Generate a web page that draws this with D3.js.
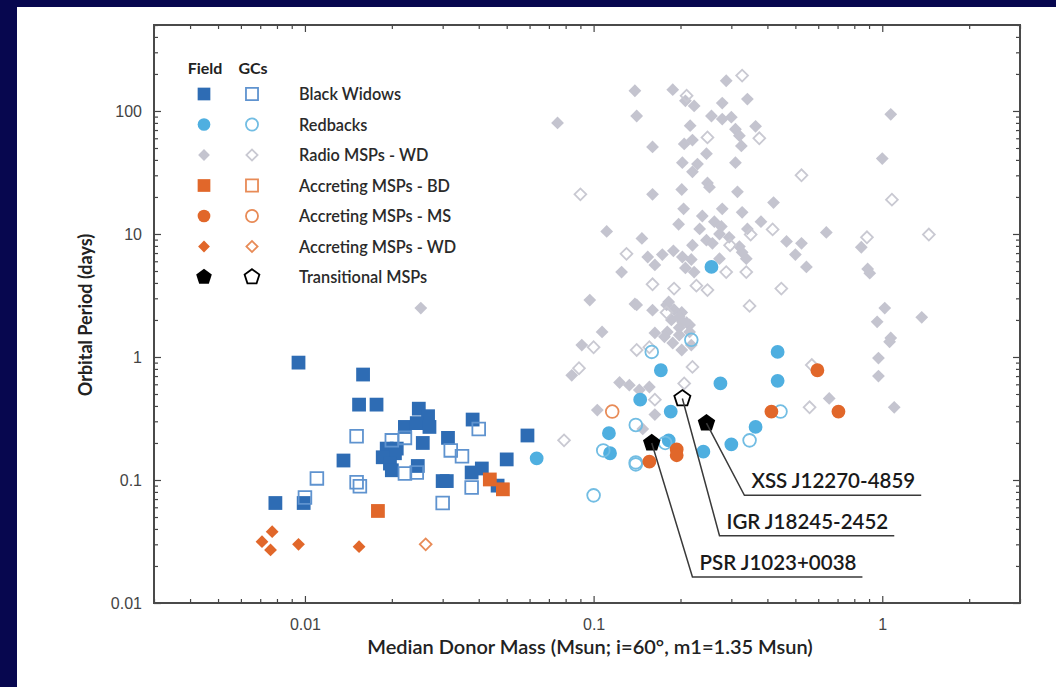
<!DOCTYPE html>
<html>
<head>
<meta charset="utf-8">
<script src="https://cdnjs.cloudflare.com/ajax/libs/d3/7.8.5/d3.min.js"></script>
<style>
  html, body { margin: 0; padding: 0; background: #07074f; }
  #chart { width: 1056px; height: 687px; }
  svg { font-family: Lato, "Open Sans", sans-serif; }
</style>
</head>
<body>
<div id="chart"></div>
<script>
'use strict';
(function() {
  // Data: [median donor mass (Msun), orbital period (days)]
  var blackWidowsField = [[0.0095,0.9],[0.0159,0.72],[0.0154,0.41],[0.0177,0.41],[0.0248,0.38],[0.0267,0.33],[0.0222,0.27],[0.0244,0.29],[0.027,0.27],[0.0313,0.22],[0.0381,0.31],[0.059,0.23],[0.0256,0.2],[0.0136,0.144],[0.0192,0.18],[0.0208,0.18],[0.0205,0.165],[0.0186,0.153],[0.0197,0.136],[0.02,0.12],[0.0246,0.13],[0.05,0.147],[0.03,0.098],[0.031,0.098],[0.0378,0.115],[0.041,0.124],[0.0465,0.09],[0.0079,0.065],[0.0099,0.065]];
  var blackWidowsGC = [[0.0151,0.227],[0.02,0.21],[0.0222,0.22],[0.032,0.174],[0.035,0.156],[0.04,0.26],[0.011,0.103],[0.0151,0.096],[0.0155,0.089],[0.01,0.072],[0.0222,0.113],[0.0244,0.115],[0.0378,0.087],[0.03,0.065]];
  var redbacksField = [[0.0635,0.15],[0.434,1.1],[0.434,0.64],[0.275,0.61],[0.171,0.78],[0.145,0.45],[0.185,0.36],[0.364,0.27],[0.113,0.24],[0.182,0.21],[0.3,0.195],[0.24,0.17],[0.114,0.165],[0.256,5.4]];
  var redbacksGC = [[0.159,1.1],[0.218,1.38],[0.14,0.28],[0.444,0.36],[0.347,0.21],[0.108,0.174],[0.14,0.139],[0.14,0.134],[0.177,0.2],[0.1,0.075]];
  var radioWDField = [[0.075,80],[0.139,146],[0.141,91],[0.188,149],[0.208,121],[0.223,110],[0.279,116],[0.288,176],[0.341,125],[0.256,91],[0.279,86],[0.3,89],[0.31,71],[0.32,63],[0.325,52],[0.364,75],[0.216,76],[0.206,54],[0.22,58],[0.246,45],[0.16,51],[0.203,38],[0.229,37],[0.22,32],[0.31,38],[0.248,26],[0.252,24],[0.16,21],[0.202,23],[0.315,22],[0.42,18],[0.205,16],[0.279,16],[0.327,15],[0.238,14],[0.197,12],[0.262,12.6],[0.277,11.5],[0.38,12.6],[0.233,11],[0.111,10.5],[0.341,11],[0.147,9.2],[0.273,10],[0.295,9.4],[0.246,8.9],[0.258,8.4],[0.22,8.1],[0.189,7.3],[0.173,6.8],[0.154,6.5],[0.163,5.6],[0.203,6.5],[0.218,6.2],[0.32,7.9],[0.327,7.1],[0.338,6.3],[0.466,8.7],[0.525,8.4],[0.5,6.8],[0.546,5.4],[0.64,10.3],[0.846,7.8],[0.89,5.2],[0.905,4.8],[1.07,94],[1.0,41],[0.125,4.9],[0.208,5.3],[0.223,4.9],[0.273,6.3],[0.097,2.9],[0.139,2.7],[0.16,2.4],[0.182,2.8],[0.202,2.3],[0.186,2.0],[0.203,1.93],[0.215,1.82],[0.198,1.73],[0.18,1.6],[0.163,1.57],[0.107,1.6],[1.02,2.5],[0.96,1.93],[1.37,2.1],[1.07,1.43],[0.091,1.25],[0.084,0.71],[0.141,2.65],[0.179,2.65],[0.19,2.42],[0.198,2.12],[0.21,1.9],[0.176,1.46],[0.198,1.51],[0.215,1.6],[0.188,1.3],[0.202,1.14],[0.218,1.25],[0.123,0.62],[0.133,0.59],[0.144,0.54],[0.156,0.57],[0.163,0.34],[0.103,0.37],[0.148,0.26],[1.06,1.33],[0.97,0.98],[0.97,0.7],[0.655,0.46],[1.1,0.39],[0.0252,2.5]];
  var radioWDGC = [[0.327,194],[0.21,133],[0.248,61],[0.375,60],[0.525,30],[0.09,21],[1.08,19],[0.417,10.9],[0.35,9.9],[0.297,8.1],[0.885,9.4],[1.45,9.9],[0.13,6.9],[0.288,4.9],[0.338,4.9],[0.16,3.9],[0.19,3.6],[0.227,3.8],[0.248,3.5],[0.447,3.6],[0.347,2.6],[0.179,2.3],[0.22,0.83],[0.206,0.61],[0.163,0.45],[0.1,1.2],[0.089,0.81],[0.079,0.21],[0.141,1.14],[0.156,1.2],[0.56,0.39],[0.57,0.86]];
  var accretingBDField = [[0.0437,0.101],[0.0485,0.084],[0.0179,0.056]];
  var accretingMSField = [[0.596,0.78],[0.413,0.36],[0.705,0.36],[0.194,0.177],[0.194,0.159],[0.156,0.141]];
  var accretingMSGC = [[0.116,0.36]];
  var accretingWDField = [[0.0077,0.038],[0.0071,0.0315],[0.0076,0.027],[0.0095,0.03],[0.0154,0.0287]];
  var accretingWDGC = [[0.0262,0.03]];
  var transitionalField = [[0.159,0.2],[0.246,0.29]];
  var transitionalGC = [[0.203,0.46]];

  // Axis domains / tick labels
  var xDomain = [0.003, 3];
  var yDomain = [0.01, 500];
  var xTickLabels = [0.01, 0.1, 1];
  var yTickLabels = [0.01, 0.1, 1, 10, 100];

  // Annotations: name, source point, elbow of the leader line
  var annotations = [
    {name: "XSS J12270-4859", point: [0.246, 0.29], label: [0.333, 0.075]},
    {name: "IGR J18245-2452", point: [0.203, 0.46], label: [0.273, 0.0352]},
    {name: "PSR J1023+0038", point: [0.159, 0.2], label: [0.22, 0.0163]}
  ];

  var legendRows = ["Black Widows", "Redbacks", "Radio MSPs - WD", "Accreting MSPs - BD", "Accreting MSPs - MS", "Accreting MSPs - WD", "Transitional MSPs"];

  var COLORS = {
    darkBlue: "#2e6cb4", darkBlueOpen: "#5f93cf",
    lightBlue: "#4fafe0", lightBlueOpen: "#72bde3",
    gray: "#c4c4cf", grayOpen: "#c9c9d2",
    orange: "#e1672a", orangeOpen: "#e88b57",
    black: "#000000"
  };

  var w = 1056;
  var h = 687;
  var left = 154, right = 1020, top = 25, bottom = 603;

  var svg = d3.select("#chart").append("svg")
    .attr("width", w)
    .attr("height", h);

  // white panel
  svg.append("rect")
    .attr("x", 17).attr("y", 7)
    .attr("width", w - 17).attr("height", h - 7)
    .attr("fill", "#ffffff");

  var xScale = d3.scaleLog().domain(xDomain).range([left, right]);
  var yScale = d3.scaleLog().domain(yDomain).range([bottom, top]);

  // log ticks, major = powers of ten
  var logTicks = function(domain) {
    var out = [];
    for (var e = -3; e <= 3; e++) {
      for (var k = 1; k <= 9; k++) {
        var v = +(k * Math.pow(10, e)).toPrecision(3);
        if (v >= domain[0] * 0.999 && v <= domain[1] * 1.001) out.push(v);
      }
    }
    return out;
  };
  var isMajor = function(v) {
    var l = Math.log10(v);
    return Math.abs(l - Math.round(l)) < 1e-6;
  };
  var xMinor = logTicks(xDomain).filter(function(v) { return !isMajor(v); });
  var yMinor = logTicks(yDomain).filter(function(v) { return !isMajor(v); });
  var fmt = function(d) { return d >= 1 ? d3.format("d")(d) : String(d); };

  var axes = svg.append("g").attr("class", "axes");

  var addAxis = function(axisFn, scale, values, size, labels, transform) {
    var ax = axisFn(scale).tickValues(values).tickSizeInner(size).tickSizeOuter(0)
      .tickFormat(labels ? fmt : "");
    var g = axes.append("g").attr("transform", transform).call(ax);
    g.select(".domain").remove();
    g.selectAll(".tick line").attr("stroke", "#444").attr("stroke-width", 1.2);
    g.selectAll(".tick text").attr("fill", "#444").attr("font-size", "16px");
    return g;
  };

  // bottom / left with labels, top / right mirrored
  var gx = addAxis(d3.axisBottom, xScale, xTickLabels, -7, true, "translate(0," + bottom + ")");
  gx.selectAll(".tick text").attr("dy", "0").attr("y", 27);
  addAxis(d3.axisBottom, xScale, xMinor, -4, false, "translate(0," + bottom + ")");
  addAxis(d3.axisTop, xScale, xTickLabels, -7, false, "translate(0," + top + ")");
  addAxis(d3.axisTop, xScale, xMinor, -4, false, "translate(0," + top + ")");

  var gy = addAxis(d3.axisLeft, yScale, yTickLabels, -7, true, "translate(" + left + ",0)");
  gy.selectAll(".tick text").attr("x", -12);
  addAxis(d3.axisLeft, yScale, yMinor, -4, false, "translate(" + left + ",0)");
  addAxis(d3.axisRight, yScale, yTickLabels, -7, false, "translate(" + right + ",0)");
  addAxis(d3.axisRight, yScale, yMinor, -4, false, "translate(" + right + ",0)");

  // frame
  axes.append("rect")
    .attr("x", left).attr("y", top)
    .attr("width", right - left).attr("height", bottom - top)
    .attr("fill", "none")
    .attr("stroke", "#4a4a4a")
    .attr("stroke-width", 2);

  // axis titles
  svg.append("text")
    .attr("x", 590).attr("y", 654)
    .attr("text-anchor", "middle")
    .attr("font-size", "20px")
    .attr("font-weight", 600)
    .attr("fill", "#222")
    .text("Median Donor Mass (Msun; i=60°, m1=1.35 Msun)");

  svg.append("text")
    .attr("transform", "translate(92,315) rotate(-90)")
    .attr("text-anchor", "middle")
    .attr("font-size", "18px")
    .attr("font-weight", 700)
    .attr("fill", "#222")
    .text("Orbital Period (days)");

  // symbols
  var pentagon = {
    draw: function(context, size) {
      var r = Math.sqrt(size / 2.378);
      for (var i = 0; i < 5; i++) {
        var a = -Math.PI / 2 + i * 2 * Math.PI / 5;
        var px = r * Math.cos(a), py = r * Math.sin(a);
        if (i === 0) context.moveTo(px, py); else context.lineTo(px, py);
      }
      context.closePath();
    }
  };

  var STYLES = {
    bw:  {type: d3.symbolSquare, size: 190, fill: COLORS.darkBlue, open: COLORS.darkBlueOpen},
    rb:  {type: d3.symbolCircle, size: 150, fill: COLORS.lightBlue, open: COLORS.lightBlueOpen},
    wd:  {type: d3.symbolSquare, size: 82, fill: COLORS.gray, open: COLORS.grayOpen, rotate: 45},
    abd: {type: d3.symbolSquare, size: 190, fill: COLORS.orange, open: COLORS.orangeOpen},
    ams: {type: d3.symbolCircle, size: 150, fill: COLORS.orange, open: COLORS.orangeOpen},
    awd: {type: d3.symbolSquare, size: 82, fill: COLORS.orange, open: COLORS.orangeOpen, rotate: 45},
    tr:  {type: pentagon, size: 200, fill: COLORS.black, open: COLORS.black}
  };

  var marks = svg.append("g").attr("class", "marks");

  var drawSeries = function(data, style, isOpen) {
    var sym = d3.symbol().type(style.type).size(isOpen ? style.size * 0.85 : style.size);
    marks.append("g")
      .selectAll("path")
      .data(data)
      .enter()
      .append("path")
      .attr("d", sym)
      .attr("transform", function(d) {
        return "translate(" + xScale(d[0]) + "," + yScale(d[1]) + ")" + (style.rotate ? " rotate(" + style.rotate + ")" : "");
      })
      .attr("fill", isOpen ? "none" : style.fill)
      .attr("stroke", isOpen ? style.open : "none")
      .attr("stroke-width", isOpen ? 1.8 : 0);
  };

  drawSeries(radioWDField, STYLES.wd, false);
  drawSeries(radioWDGC, STYLES.wd, true);
  drawSeries(blackWidowsField, STYLES.bw, false);
  drawSeries(blackWidowsGC, STYLES.bw, true);
  drawSeries(redbacksField, STYLES.rb, false);
  drawSeries(redbacksGC, STYLES.rb, true);
  drawSeries(accretingBDField, STYLES.abd, false);
  drawSeries(accretingMSField, STYLES.ams, false);
  drawSeries(accretingMSGC, STYLES.ams, true);
  drawSeries(accretingWDField, STYLES.awd, false);
  drawSeries(accretingWDGC, STYLES.awd, true);

  // annotation leaders
  var ann = svg.append("g").attr("class", "annotations");
  annotations.forEach(function(a) {
    var x0 = xScale(a.point[0]), y0 = yScale(a.point[1]);
    var x1 = xScale(a.label[0]), y1 = yScale(a.label[1]);
    var t = ann.append("text")
      .attr("x", x1 + 7).attr("y", y1 - 7)
      .attr("font-size", "20.5px")
      .attr("font-weight", 600)
      .attr("fill", "#1a1a1a")
      .text(a.name);
    var tw = t.node().getComputedTextLength();
    ann.append("polyline")
      .attr("points", [[x0, y0], [x1, y1], [x1 + tw + 13, y1]].join(" "))
      .attr("fill", "none")
      .attr("stroke", "#3a3a3a")
      .attr("stroke-width", 1.5);
  });

  drawSeries(transitionalField, STYLES.tr, false);
  drawSeries(transitionalGC, STYLES.tr, true);

  // legend
  var legend = svg.append("g").attr("class", "legend");
  legend.append("text").attr("x", 205).attr("y", 74).attr("text-anchor", "middle")
    .attr("font-size", "16px").attr("font-weight", 700).attr("fill", "#222").text("Field");
  legend.append("text").attr("x", 253).attr("y", 74).attr("text-anchor", "middle")
    .attr("font-size", "16px").attr("font-weight", 700).attr("fill", "#222").text("GCs");

  var legendStyles = [STYLES.bw, STYLES.rb, STYLES.wd, STYLES.abd, STYLES.ams, STYLES.awd, STYLES.tr];
  var rowY = d3.scalePoint().domain(legendRows).range([94, 277]);

  legendRows.forEach(function(name, i) {
    var st = legendStyles[i];
    var y = rowY(name);
    var scaleK = (st.type === pentagon) ? 0.8 : 0.85;
    [false, true].forEach(function(isOpen) {
      var sym = d3.symbol().type(st.type).size(st.size * scaleK * (isOpen ? 0.9 : 1));
      legend.append("path")
        .attr("d", sym)
        .attr("transform", "translate(" + (isOpen ? 252 : 204) + "," + y + ")" + (st.rotate ? " rotate(45)" : ""))
        .attr("fill", isOpen ? "none" : st.fill)
        .attr("stroke", isOpen ? st.open : "none")
        .attr("stroke-width", isOpen ? 1.8 : 0);
    });
    legend.append("text")
      .attr("x", 299).attr("y", y + 6)
      .attr("font-size", "16.3px")
      .attr("font-weight", 600)
      .attr("fill", "#2a2a2a")
      .text(name);
  });
})();
</script>
</body>
</html>
